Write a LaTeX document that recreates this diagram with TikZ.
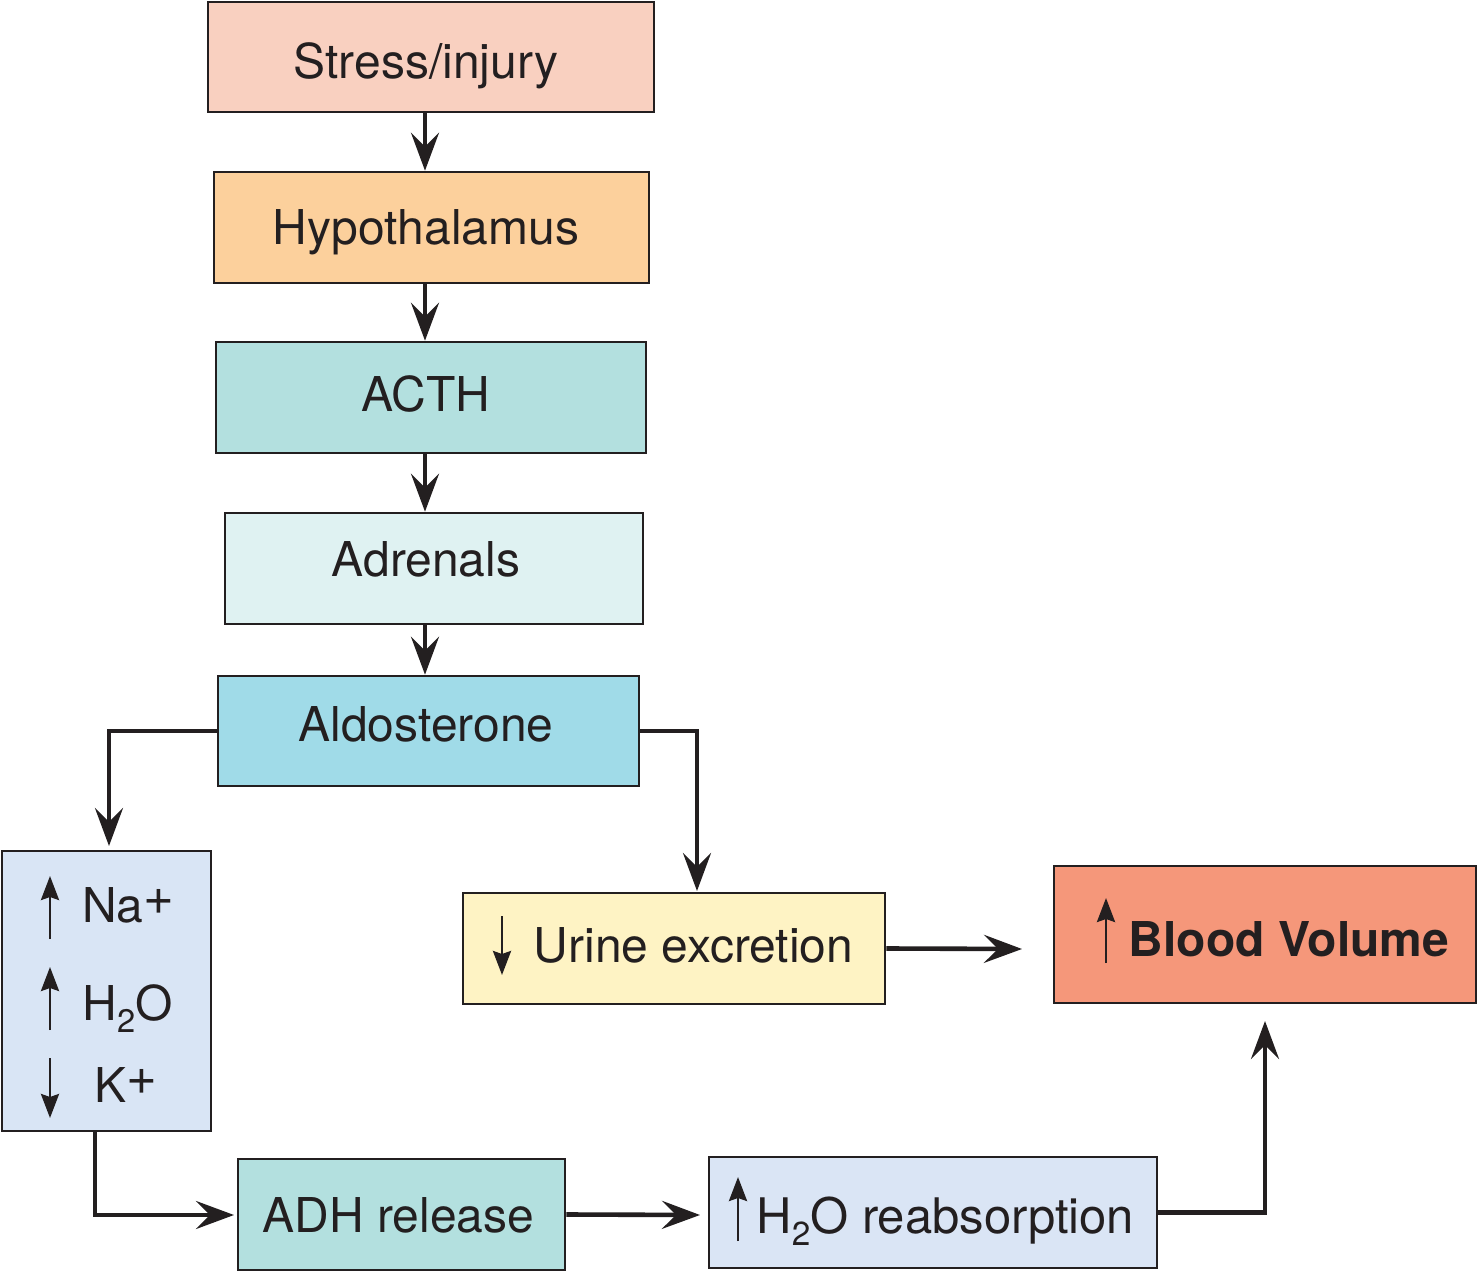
\documentclass[tikz,border=0pt]{standalone}
\usepackage{fontspec}
\usepackage{graphicx}
\setmainfont{TeX Gyre Heros}
\usetikzlibrary{arrows.meta}
\definecolor{lineclr}{HTML}{231F20}
\definecolor{cStress}{HTML}{F9D0C0}
\definecolor{cHypo}{HTML}{FCD09C}
\definecolor{cActh}{HTML}{B3E0DF}
\definecolor{cAdren}{HTML}{DFF2F2}
\definecolor{cAldo}{HTML}{A0DBE8}
\definecolor{cIons}{HTML}{D9E5F5}
\definecolor{cUrine}{HTML}{FEF3C4}
\definecolor{cBlood}{HTML}{F5977A}
\definecolor{cAdh}{HTML}{B3E0DF}
\definecolor{cReab}{HTML}{DAE5F5}
\newcommand{\plusup}{\raisebox{4pt}{\scalebox{1.1}{+}}}
\newcommand{\subtwo}{\raisebox{-6pt}{\scalebox{0.68}{2}}}
\begin{document}
\begin{tikzpicture}[x=0.5pt,y=-0.5pt,
  box/.style={draw=lineclr, line width=1.3pt, inner sep=0pt, rectangle},
  txt/.style={anchor=base, inner sep=0pt, font=\fontsize{24}{28}\selectfont, text=lineclr},
  conn/.style={line width=2.3pt, draw=lineclr, -{Stealth[length=19pt,width=14pt,inset=7pt]}},
  small/.style={line width=1.4pt, draw=lineclr, -{Stealth[length=12pt,width=9pt,inset=1.5pt]}}]
\useasboundingbox (0,0) rectangle (1478,1272);
\fill[white] (0,0) rectangle (1478,1272);

% boxes
\node[box, fill=cStress, minimum width=223pt, minimum height=55pt] (stress) at (431,57) {};
\node[box, fill=cHypo, minimum width=217.5pt, minimum height=55.5pt] (hypo) at (431.5,227.5) {};
\node[box, fill=cActh, minimum width=215pt, minimum height=55.5pt] (acth) at (431,397.5) {};
\node[box, fill=cAdren, minimum width=209pt, minimum height=55.5pt] (adren) at (434,568.5) {};
\node[box, fill=cAldo, minimum width=210.5pt, minimum height=55pt] (aldo) at (428.5,731) {};
\node[box, fill=cIons, minimum width=104.5pt, minimum height=140pt] (ions) at (106.5,991) {};
\node[box, fill=cUrine, minimum width=211pt, minimum height=55.5pt] (urine) at (674,948.5) {};
\node[box, fill=cBlood, minimum width=211pt, minimum height=68.5pt] (blood) at (1265,934.5) {};
\node[box, fill=cAdh, minimum width=163.5pt, minimum height=55.5pt] (adh) at (401.5,1214.5) {};
\node[box, fill=cReab, minimum width=224pt, minimum height=55.5pt] (reab) at (933,1212.5) {};

% texts
\node[txt] (tstress) at (426,79) {Stress/injury};
\node[txt] (thypo) at (426,245) {Hypothalamus};
\node[txt] (tacth) at (426,412) {ACTH};
\node[txt] (tadren) at (426,577) {Adrenals};
\node[txt] (taldo) at (426,741) {Aldosterone};
\node[txt, anchor=base west] (tna) at (82,922) {Na\plusup};
\node[txt, anchor=base west] (th2o) at (82,1020) {H\subtwo O};
\node[txt, anchor=base west] (tk) at (94,1102) {K\plusup};
\node[txt] (turine) at (693.5,962) {Urine excretion};
\node[txt, font=\fontsize{24}{28}\selectfont\bfseries] (tblood) at (1289,956) {Blood Volume};
\node[txt] (tadh) at (398.5,1232) {ADH release};
\node[txt, anchor=base west, font=\fontsize{24.5}{28}\selectfont] (treab) at (756,1233) {H\subtwo O reabsorption};

% inline arrows
\draw[small] (50,939) -- (50,876);
\draw[small] (50,1030) -- (50,967);
\draw[small] (50,1058) -- (50,1118);
\draw[small] (502,916) -- (502,975);
\draw[small] (1106,963) -- (1106,898);
\draw[small] (738,1241) -- (738,1177);

% connectors
\coordinate (ax) at (425,0);
\draw[conn] (stress.south -| ax) -- (hypo.north -| ax);
\draw[conn] (hypo.south -| ax) -- (acth.north -| ax);
\draw[conn] (acth.south -| ax) -- (adren.north -| ax);
\draw[conn] (adren.south -| ax) -- (aldo.north -| ax);
\coordinate (lt) at (109,846);
\coordinate (rt) at (697,891);
\draw[conn] (aldo.west) -| (lt);
\draw[conn] (aldo.east) -| (rt);
\coordinate (bvl) at (1022,949);
\draw[conn] (urine.east) -- (bvl);
\coordinate (ls) at (95,0);
\coordinate (adhin) at (234,1215);
\draw[conn] (ions.south -| ls) |- (adhin);
\coordinate (reabin) at (700,1215);
\draw[conn] (adh.east) -- (reabin);
\coordinate (bvb) at (1265,1021);
\draw[conn] (reab.east) -| (bvb);
\end{tikzpicture}
\end{document}
